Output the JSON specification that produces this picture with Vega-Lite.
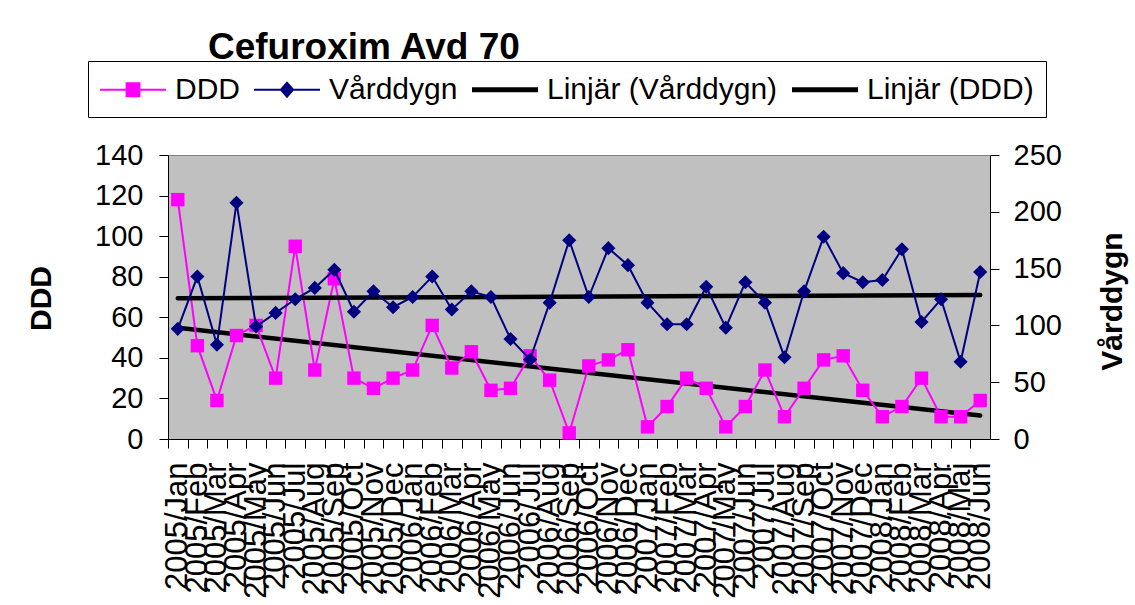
{
  "$schema": "https://vega.github.io/schema/vega-lite/v6.json",
  "width": 822,
  "height": 284,
  "autosize": {"type": "none"},
  "padding": {"left": 168, "top": 155, "right": 145, "bottom": 166},
  "background": "white",
  "title": {"text": "Cefuroxim Avd 70", "anchor": "start", "frame": "group", "font": "Liberation Sans", "fontSize": 37, "fontWeight": "bold", "color": "black", "dx": 40, "dy": 16, "offset": 10},
  "data": {"values": [
    {"i": 1, "month": "2005/Jan", "DDD": 118, "Vårddygn": 97},
    {"i": 2, "month": "2005/Feb", "DDD": 46, "Vårddygn": 143},
    {"i": 3, "month": "2005/Mar", "DDD": 19, "Vårddygn": 83},
    {"i": 4, "month": "2005/Apr", "DDD": 51, "Vårddygn": 208},
    {"i": 5, "month": "2005/May", "DDD": 56, "Vårddygn": 99},
    {"i": 6, "month": "2005/Jun", "DDD": 30, "Vårddygn": 111},
    {"i": 7, "month": "2005/Jul", "DDD": 95, "Vårddygn": 123},
    {"i": 8, "month": "2005/Aug", "DDD": 34, "Vårddygn": 133},
    {"i": 9, "month": "2005/Sep", "DDD": 79, "Vårddygn": 149},
    {"i": 10, "month": "2005/Oct", "DDD": 30, "Vårddygn": 112},
    {"i": 11, "month": "2005/Nov", "DDD": 25, "Vårddygn": 130},
    {"i": 12, "month": "2005/Dec", "DDD": 30, "Vårddygn": 116},
    {"i": 13, "month": "2006/Jan", "DDD": 34, "Vårddygn": 125},
    {"i": 14, "month": "2006/Feb", "DDD": 56, "Vårddygn": 143},
    {"i": 15, "month": "2006/Mar", "DDD": 35, "Vårddygn": 114},
    {"i": 16, "month": "2006/Apr", "DDD": 43, "Vårddygn": 130},
    {"i": 17, "month": "2006/May", "DDD": 24, "Vårddygn": 125},
    {"i": 18, "month": "2006/Jun", "DDD": 25, "Vårddygn": 88},
    {"i": 19, "month": "2006/Jul", "DDD": 41, "Vårddygn": 70},
    {"i": 20, "month": "2006/Aug", "DDD": 29, "Vårddygn": 120},
    {"i": 21, "month": "2006/Sep", "DDD": 3, "Vårddygn": 175},
    {"i": 22, "month": "2006/Oct", "DDD": 36, "Vårddygn": 125},
    {"i": 23, "month": "2006/Nov", "DDD": 39, "Vårddygn": 168},
    {"i": 24, "month": "2006/Dec", "DDD": 44, "Vårddygn": 153},
    {"i": 25, "month": "2007/Jan", "DDD": 6, "Vårddygn": 120},
    {"i": 26, "month": "2007/Feb", "DDD": 16, "Vårddygn": 101},
    {"i": 27, "month": "2007/Mar", "DDD": 30, "Vårddygn": 101},
    {"i": 28, "month": "2007/Apr", "DDD": 25, "Vårddygn": 134},
    {"i": 29, "month": "2007/May", "DDD": 6, "Vårddygn": 98},
    {"i": 30, "month": "2007/Jun", "DDD": 16, "Vårddygn": 138},
    {"i": 31, "month": "2007/Jul", "DDD": 34, "Vårddygn": 120},
    {"i": 32, "month": "2007/Aug", "DDD": 11, "Vårddygn": 72},
    {"i": 33, "month": "2007/Sep", "DDD": 25, "Vårddygn": 130},
    {"i": 34, "month": "2007/Oct", "DDD": 39, "Vårddygn": 178},
    {"i": 35, "month": "2007/Nov", "DDD": 41, "Vårddygn": 146},
    {"i": 36, "month": "2007/Dec", "DDD": 24, "Vårddygn": 138},
    {"i": 37, "month": "2008/Jan", "DDD": 11, "Vårddygn": 140},
    {"i": 38, "month": "2008/Feb", "DDD": 16, "Vårddygn": 167},
    {"i": 39, "month": "2008/Mar", "DDD": 30, "Vårddygn": 103},
    {"i": 40, "month": "2008/Apr", "DDD": 11, "Vårddygn": 123},
    {"i": 41, "month": "2008/Maj", "DDD": 11, "Vårddygn": 68},
    {"i": 42, "month": "2008/Jun", "DDD": 19, "Vårddygn": 147}
  ]},
  "encoding": {
    "x": {
      "field": "i", "type": "quantitative",
      "scale": {"domain": [0.5, 42.5], "nice": false, "zero": false},
      "axis": {
        "title": null,
        "values": [1,2,3,4,5,6,7,8,9,10,11,12,13,14,15,16,17,18,19,20,21,22,23,24,25,26,27,28,29,30,31,32,33,34,35,36,37,38,39,40,41,42],
        "labelExpr": "['2005/Jan','2005/Feb','2005/Mar','2005/Apr','2005/May','2005/Jun','2005/Jul','2005/Aug','2005/Sep','2005/Oct','2005/Nov','2005/Dec','2006/Jan','2006/Feb','2006/Mar','2006/Apr','2006/May','2006/Jun','2006/Jul','2006/Aug','2006/Sep','2006/Oct','2006/Nov','2006/Dec','2007/Jan','2007/Feb','2007/Mar','2007/Apr','2007/May','2007/Jun','2007/Jul','2007/Aug','2007/Sep','2007/Oct','2007/Nov','2007/Dec','2008/Jan','2008/Feb','2008/Mar','2008/Apr','2008/Maj','2008/Jun'][datum.value-1]",
        "labelAngle": -90,
        "labelAlign": "right",
        "labelBaseline": "middle",
        "labelFontSize": 31,
        "labelPadding": 14,
        "labelOverlap": false,
        "labelBound": false,
        "labelFlush": false,
        "labelLimit": 400,
        "tickOffset": -9.79,
        "labelOffset": 9.79
      }
    }
  },
  "layer": [
    {
      "encoding": {
        "y": {
          "field": "DDD", "type": "quantitative",
          "scale": {"domain": [0, 140], "nice": false},
          "axis": {
            "orient": "left",
            "values": [0, 20, 40, 60, 80, 100, 120, 140],
            "title": "DDD",
            "titleFontSize": 30,
            "titleFontWeight": "bold",
            "titleAngle": -90,
            "titleAlign": "center",
            "titleBaseline": "alphabetic",
            "titleX": -118,
            "titleY": 143,
            "labelFontSize": 29,
            "labelPadding": 16
          }
        }
      },
      "layer": [
        {
          "transform": [{"regression": "DDD", "on": "i"}],
          "mark": {"type": "line", "color": "black", "strokeWidth": 4.5, "strokeCap": "round"}
        },
        {
          "mark": {"type": "line", "color": "#FF00FF", "strokeWidth": 2,
            "point": {"shape": "square", "size": 180, "filled": true, "color": "#FF00FF", "opacity": 1}}
        },
        {
          "transform": [{"filter": "false"}],
          "mark": {"type": "point", "filled": true, "size": 1089, "opacity": 1},
          "encoding": {
            "color": {
              "field": "series", "type": "nominal",
              "scale": {"domain": ["DDD", "Vårddygn", "Linjär (Vårddygn)", "Linjär (DDD)"], "range": ["#FF00FF", "#000080", "#000000", "#000000"]},
              "legend": {
                "title": null, "orient": "none", "legendX": -80, "legendY": -94,
                "direction": "horizontal", "columns": 4,
                "strokeColor": "black", "fillColor": "white", "padding": 12,
                "labelFont": "Liberation Sans", "labelFontSize": 30, "labelColor": "black",
                "labelOffset": 42, "labelLimit": 400, "columnPadding": 14,
                "symbolSize": 1089, "symbolStrokeWidth": 0, "symbolOpacity": 1
              }
            },
            "shape": {
              "field": "series", "type": "nominal",
              "scale": {"domain": ["DDD", "Vårddygn", "Linjär (Vårddygn)", "Linjär (DDD)"],
                "range": [
                  "M-1,-0.06H3V0.06H-1Z M0.55,-0.45H1.45V0.45H0.55Z",
                  "M-1,-0.06H3V0.06H-1Z M1,-0.52L1.45,0L1,0.52L0.55,0Z",
                  "M-1,-0.15H3V0.15H-1Z",
                  "M-1,-0.15H3V0.15H-1Z"
                ]},
              "legend": {
                "title": null, "orient": "none", "legendX": -80, "legendY": -94,
                "direction": "horizontal", "columns": 4,
                "strokeColor": "black", "fillColor": "white", "padding": 12,
                "labelFont": "Liberation Sans", "labelFontSize": 30, "labelColor": "black",
                "labelOffset": 42, "labelLimit": 400, "columnPadding": 14,
                "symbolSize": 1089, "symbolStrokeWidth": 0, "symbolOpacity": 1
              }
            }
          }
        }
      ]
    },
    {
      "encoding": {
        "y": {
          "field": "Vårddygn", "type": "quantitative",
          "scale": {"domain": [0, 250], "nice": false},
          "axis": {
            "orient": "right",
            "values": [0, 50, 100, 150, 200, 250],
            "title": "Vårddygn",
            "titleFontSize": 30,
            "titleFontWeight": "bold",
            "titleAngle": -90,
            "titleAlign": "center",
            "titleBaseline": "alphabetic",
            "titleX": 131,
            "titleY": 146,
            "labelFontSize": 29,
            "labelPadding": 14
          }
        }
      },
      "layer": [
        {
          "transform": [{"regression": "Vårddygn", "on": "i"}],
          "mark": {"type": "line", "color": "black", "strokeWidth": 4.5, "strokeCap": "round"}
        },
        {
          "mark": {"type": "line", "color": "#000080", "strokeWidth": 2,
            "point": {"shape": "diamond", "size": 200, "filled": true, "color": "#000080", "opacity": 1}}
        }
      ]
    }
  ],
  "resolve": {"scale": {"y": "independent"}},
  "config": {
    "view": {"fill": "#C0C0C0", "stroke": "#808080", "strokeWidth": 1},
    "axis": {
      "domainColor": "black", "tickColor": "black", "labelColor": "black", "titleColor": "black",
      "labelFont": "Liberation Sans", "titleFont": "Liberation Sans",
      "grid": false, "tickSize": 9, "domainWidth": 1, "tickWidth": 1
    }
  }
}
